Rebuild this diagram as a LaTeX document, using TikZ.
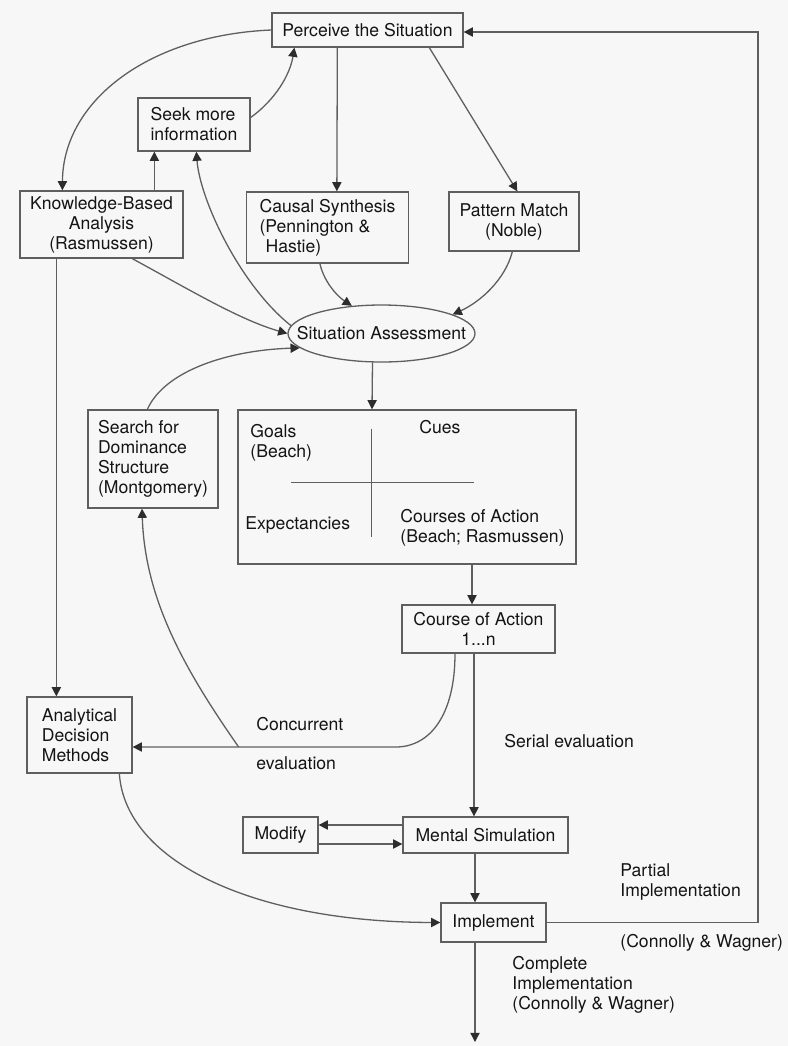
\documentclass[tikz,border=0pt]{standalone}
\usepackage{fontspec}
\setmainfont{TeX Gyre Heros}
\usetikzlibrary{arrows.meta,shapes.geometric,calc}
\definecolor{bgc}{RGB}{247,247,247}
\definecolor{linec}{RGB}{95,95,95}
\definecolor{tipc}{RGB}{45,45,45}
\definecolor{txtc}{RGB}{20,20,20}
\begin{document}
\begin{tikzpicture}[x=0.5pt,y=-0.5pt,
  font=\fontsize{8.8}{10}\selectfont,
  box/.style={draw=linec, line width=0.65pt, inner sep=0pt, text=txtc, align=center},
  lbl/.style={inner sep=0pt, text=txtc, align=left},
  arr/.style={draw=linec, line width=0.65pt, -{Triangle[length=4.6pt,width=4.6pt,color=tipc]}},
  ln/.style={draw=linec, line width=0.65pt}]
\fill[bgc] (0,0) rectangle (788,1046);
\useasboundingbox (0,0) rectangle (788,1046);

% nodes
\node[box, minimum width=95.5pt, minimum height=17pt] (perceive) at (367.5,30) {Perceive the Situation};
\node[box, align=left, minimum width=56pt, minimum height=26.5pt] (seek) at (194,124.5) {Seek more\\information};
\node[box, minimum width=81.5pt, minimum height=33.5pt] (kba) at (101.5,224.5) {Knowledge-Based\\Analysis\\(Rasmussen)};
\node[box, align=left, minimum width=81pt, minimum height=35.5pt] (causal) at (327.5,227.5) {Causal Synthesis\\(Pennington \&\\\hspace*{3pt}Hastie)};
\node[box, minimum width=65pt, minimum height=29.5pt] (pattern) at (514,221.5) {Pattern Match\\(Noble)};
\node[box, ellipse, minimum width=93.5pt, minimum height=28.5pt] (sa) at (381.5,333.5) {\makebox[0pt]{Situation Assessment}};
\node[box, minimum width=169pt, minimum height=77pt] (big) at (407,487) {};
\node[box, align=left, minimum width=65pt, minimum height=49pt] (search) at (153,459) {Search for\\Dominance\\Structure\\(Montgomery)};
\node[box, minimum width=76.5pt, minimum height=24pt] (coa) at (478.5,629) {Course of Action\\1...n};
\node[box, align=left, minimum width=52.5pt, minimum height=38pt] (ana) at (79.5,735) {Analytical\\Decision\\Methods};
\node[box, minimum width=37.5pt, minimum height=18pt] (modify) at (280.5,835) {Modify};
\node[box, minimum width=82.5pt, minimum height=18pt] (ms) at (485.5,835) {Mental Simulation};
\node[box, minimum width=52.5pt, minimum height=19.5pt] (impl) at (493.5,922.5) {Implement};

% contents of the big box
\node[lbl, anchor=west] (goals) at (250,443) {Goals\\(Beach)};
\node[lbl] (cues) at (440,427) {Cues};
\node[lbl, anchor=west] (expect) at (245,525) {Expectancies};
\node[lbl, anchor=west] (coas) at (400,528) {Courses of Action\\(Beach; Rasmussen)};
\draw[ln] ($(big.north west)+(134,20)$) -- ($(big.north west)+(134,128)$);
\draw[ln] ($(big.north west)+(54,73)$) -- ($(big.north west)+(237,73)$);

% labels
\node[lbl, anchor=west] (conc) at (256,724) {Concurrent};
\node[lbl, anchor=west] (evl) at (256,763) {evaluation};
\node[lbl, anchor=west] (serial) at (504,741) {Serial evaluation};
\node[lbl, anchor=west] (partial) at (620,882) {Partial\\Implementation};
\node[lbl, anchor=west] (cw1) at (620,943) {(Connolly \& Wagner)};
\node[lbl, anchor=west] (complete) at (512,985) {Complete\\Implementation\\(Connolly \& Wagner)};

% connectors
\draw[arr] (perceive.west) .. controls (150,35) and (63,100) .. ($(kba.north west)+(43,0)$);
\draw[arr] ($(seek.east)+(0,-7)$) .. controls (275,100) and (290,75) .. ($(perceive.south west)+(23,0)$);
\draw[arr] ($(perceive.south west)+(66,0)$) -- ($(causal.north west)+(91,0)$);
\draw[arr] ($(perceive.south west)+(158,0)$) -- ($(pattern.north west)+(69,0)$);
\draw[arr] ($(kba.north west)+(135,0)$) -- ($(seek.south west)+(17,0)$);
\draw[arr] (sa.175) .. controls (240,285) and (200,200) .. ($(seek.south west)+(59,0)$);
\draw[arr] ($(kba.south west)+(113,0)$) .. controls (190,290) and (240,320) .. (sa.west);
\draw[arr] ($(causal.south west)+(74,0)$) .. controls (325,285) and (340,298) .. (sa.137);
\draw[arr] ($(pattern.south west)+(64,0)$) .. controls (505,280) and (480,302) .. (sa.15);
\draw[arr] ($(sa.south)+(-9,0)$) -- ($(big.north)+(-35,0)$);
\draw[arr] ($(search.north west)+(60,0)$) .. controls (165,370) and (230,350) .. (sa.190);
\draw[arr] ($(big.south)+(65,0)$) -- ($(coa.north)+(-6.5,0)$);
\coordinate (cj) at ($(ana.east)+(106,12)$);
\draw[arr] ($(coa.south)+(-23.5,0)$) .. controls (455,715) and (430,747) .. ($(ana.east)+(263,12)$) -- ($(ana.east)+(0,12)$);
\draw[arr] (cj) .. controls (185,670) and (145,600) .. ($(search.south)+(-11,0)$);
\draw[arr] ($(kba.south west)+(37,0)$) -- ($(ana.north west)+(30,0)$);
\draw[arr] ($(coa.south)+(-4.5,0)$) -- ($(ms.north)+(-11.5,0)$);
\draw[arr] ($(ms.west)+(0,-10)$) -- ($(modify.east)+(0,-10)$);
\draw[arr] ($(modify.east)+(0,9)$) -- ($(ms.west)+(0,9)$);
\draw[arr] ($(ms.south)+(-10.5,0)$) -- ($(impl.north)+(-18.5,0)$);
\draw[arr] ($(ana.south west)+(93,0)$) .. controls (125,860) and (250,922) .. (impl.west);
\coordinate (rc) at (758,0);
\coordinate (pin) at ($(perceive.east)+(0,2)$);
\draw[arr] (impl.east) -- (impl.east -| rc) -- (pin -| rc) -- (pin);
\coordinate (outp) at (475,1042);
\draw[arr] ($(impl.south)+(-18.5,0)$) -- (outp);
\end{tikzpicture}
\end{document}
